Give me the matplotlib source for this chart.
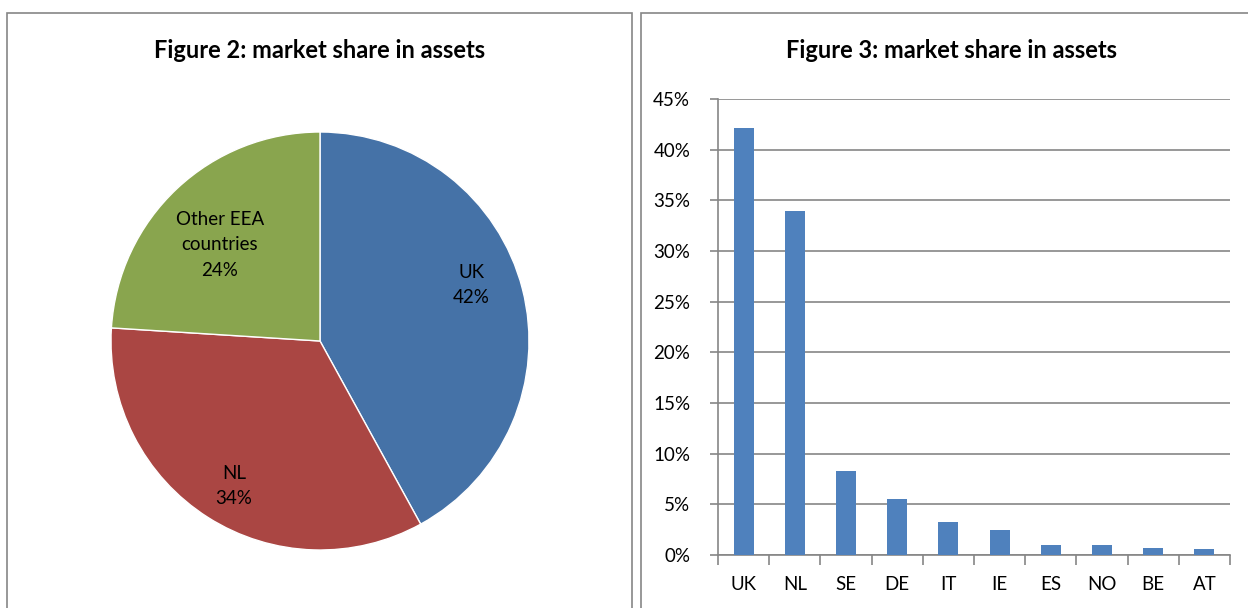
import matplotlib
matplotlib.use("Agg")
import matplotlib.pyplot as plt
from matplotlib.patches import Rectangle
from matplotlib.ticker import FuncFormatter, MultipleLocator
import numpy as np

plt.rcParams['font.family'] = ['Lato', 'DejaVu Sans']

pie_labels = ["UK", "NL", "Other EEA\ncountries"]
pie_values = [42, 34, 24]
pie_colors = ["#4572A7", "#AA4643", "#89A54E"]

countries = ["UK", "NL", "SE", "DE", "IT", "IE", "ES", "NO", "BE", "AT"]
shares = [42.1, 33.9, 8.3, 5.5, 3.25, 2.45, 0.98, 0.95, 0.72, 0.6]
bar_color = "#4F81BD"

W, H = 1248, 608
fig = plt.figure(figsize=(W / 100, H / 100), dpi=100)

# Panel borders
for (x0, y0, x1, y1) in [(7, 13, 632, 620), (641, 13, 1260, 620)]:
    fig.patches.append(Rectangle((x0 / W, 1 - y1 / H), (x1 - x0) / W, (y1 - y0) / H,
                                 transform=fig.transFigure, fill=False,
                                 edgecolor="#868686", linewidth=1.2))

fig.text(320 / W, 1 - 51 / H, "Figure 2: market share in assets", ha="center", va="center",
         fontsize=17, fontweight="bold")
fig.text(951 / W, 1 - 51 / H, "Figure 3: market share in assets", ha="center", va="center",
         fontsize=17, fontweight="bold")

# Pie
cx, cy, r = 320, 341, 209
axp = fig.add_axes([(cx - r) / W, (H - cy - r) / H, 2 * r / W, 2 * r / H])
wedges, _ = axp.pie(pie_values, colors=pie_colors, startangle=90, counterclock=False,
                    wedgeprops=dict(edgecolor="white", linewidth=1))
axp.set_xlim(-1, 1)
axp.set_ylim(-1, 1)
axp.set_aspect("equal")
label_pos = [(471, 285), (234, 486), (220, 245)]
for (lx, ly), lab, v in zip(label_pos, pie_labels, pie_values):
    fig.text(lx / W, 1 - ly / H, f"{lab}\n{v}%", ha="center", va="center",
             fontsize=13.5, linespacing=1.62)

# Bar chart
x0, x1, y0, y1 = 718, 1230, 555, 99
axb = fig.add_axes([x0 / W, (H - y0) / H, (x1 - x0) / W, (y0 - y1) / H])
pos = np.arange(len(countries))
axb.bar(pos, shares, width=0.39, color=bar_color, zorder=3)
axb.set_xlim(-0.5, len(countries) - 0.5)
axb.set_ylim(0, 45)
axb.yaxis.set_major_locator(MultipleLocator(5))
axb.yaxis.set_major_formatter(FuncFormatter(lambda v, p: f"{v:.0f}%"))
axb.grid(axis="y", color="#868686", linewidth=1.2, zorder=0)
for s in ["top", "right"]:
    axb.spines[s].set_visible(False)
for s in ["left", "bottom"]:
    axb.spines[s].set_color("#868686")
    axb.spines[s].set_linewidth(1.2)
axb.set_xticks(pos)
axb.set_xticklabels(countries, fontsize=13.5)
axb.tick_params(axis="x", length=0, pad=15)
axb.set_xticks(np.arange(-0.5, len(countries)), minor=True)
axb.tick_params(axis="x", which="minor", length=7, color="#868686", width=1.2)
axb.tick_params(axis="y", labelsize=13.5, length=6, color="#868686", width=1.2, pad=14)

fig.savefig("out.png", dpi=100)
